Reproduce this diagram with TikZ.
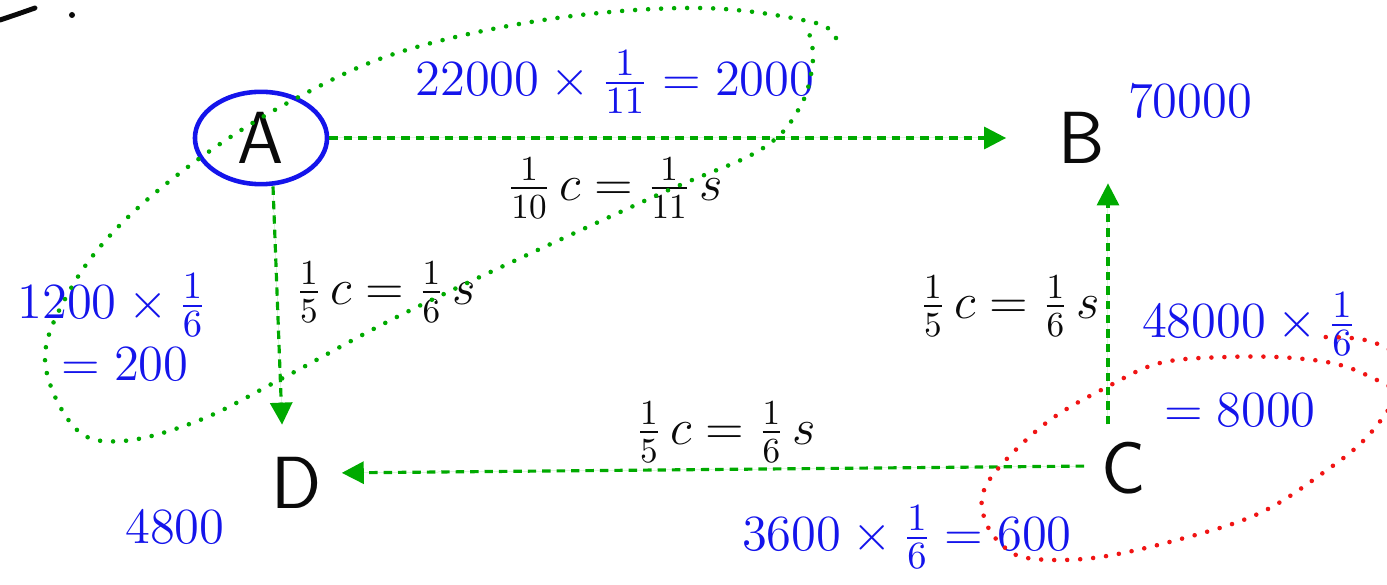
\documentclass[tikz,border=0pt]{standalone}
\usepackage{amsmath}
\usepackage{tikz}
\usetikzlibrary{arrows.meta, shapes.geometric, positioning}
\definecolor{mygreen}{RGB}{0,170,0}
\definecolor{myblue}{RGB}{20,20,235}
\definecolor{myred}{RGB}{240,20,20}
\definecolor{mydark}{RGB}{10,10,10}
\tikzset{
  letter/.style={font=\sffamily\fontsize{21}{24}\selectfont, text=mydark, inner sep=2pt},
  ratio/.style={font=\fontsize{14}{16}\selectfont, text=mydark, inner sep=0pt},
  calcnum/.style={font=\fontsize{15}{17}\selectfont, text=myblue, inner sep=0pt},
  flow/.style={-{Triangle[length=0.22cm,width=0.22cm]}, draw=mygreen, fill=mygreen,
    line width=0.9pt, dash pattern=on 2.4pt off 1.7pt},
  group/.style={line width=1.3pt, dash pattern=on 0pt off 3.7pt, line cap=round}
}

\begin{document}
\begin{tikzpicture}[x=0.01cm, y=-0.01cm]
  \useasboundingbox (0,0) rectangle (1387,585);
  \clip (0,0) rectangle (1387,585);

  % Stray pen marks
  \draw[mydark, line width=1.4pt, line cap=round] (0,20) .. controls (15,15) .. (35,8);
  \fill[mydark] (72,15) circle (0.03cm);

  % Points
  \node[letter, ellipse, draw=myblue, line width=1.3pt,
    minimum width=1.32cm, minimum height=0.8cm] (A) at (261,138) {A};
  \node[letter] (B) at (1082,138) {B};
  \node[letter] (C) at (1124,468) {C};
  \node[letter] (D) at (297,483) {D};

  % Ratios
  \node[ratio] (rAB) at (615,188) {$\frac{1}{10}\,c=\frac{1}{11}\,s$};
  \node[ratio] (rAD) at (386,292) {$\frac{1}{5}\,c=\frac{1}{6}\,s$};
  \node[ratio] (rCB) at (1010,306) {$\frac{1}{5}\,c=\frac{1}{6}\,s$};
  \node[ratio] (rCD) at (726,432) {$\frac{1}{5}\,c=\frac{1}{6}\,s$};

  % Amounts
  \node[calcnum] (cA) at (615,82) {$22000\times\frac{1}{11}=2000$};
  \node[calcnum] (cB) at (1190,101) {$70000$};
  \node[calcnum] (cDa) at (112,305) {$1200\times\frac{1}{6}$};
  \node[calcnum] (cDb) at (125,364) {$=200$};
  \node[calcnum] (cD) at (175,527) {$4800$};
  \node[calcnum] (cCa) at (1249,324) {$48000\times\frac{1}{6}$};
  \node[calcnum] (cCb) at (1240,410) {$=8000$};
  \node[calcnum] (cC) at (907,537) {$3600\times\frac{1}{6}=600$};

  % Arrows
  \draw[flow, shorten >=0.45cm] (A.east) -- (B.west);
  \draw[flow, shorten >=0.25cm] ([xshift=0.12cm]A.south) -- ([xshift=-0.14cm]D.north);
  \draw[flow, shorten <=0.1cm, shorten >=0.12cm] ([xshift=-0.16cm]C.north) -- ([xshift=-0.16cm]C.north |- B.south);
  \draw[flow, shorten <=0.1cm, shorten >=0.12cm] ([yshift=0.02cm]C.west) -- ([yshift=0.1cm]D.east);

  % Groups
  \draw[group, mygreen] plot[smooth, tension=0.6] coordinates {
    (836,38) (812,22) (700,8) (550,19) (400,52) (293,100) (200,158) (120,225)
    (70,290) (45,360) (75,428) (123,441) (200,420) (283,378) (417,307)
    (653,197) (760,150) (800,107) (813,60) (808,30)};
  \draw[group, myred] plot[smooth, tension=0.6] coordinates {
    (1400,392) (1347,367) (1293,358) (1227,357) (1160,363) (1107,387)
    (1050,420) (1003,463) (983,493) (985,520) (1000,543) (1027,558)
    (1093,558) (1177,540) (1260,513) (1327,470) (1367,437) (1398,395)
    (1410,368) (1390,350) (1360,339) (1315,337)};
\end{tikzpicture}
\end{document}
